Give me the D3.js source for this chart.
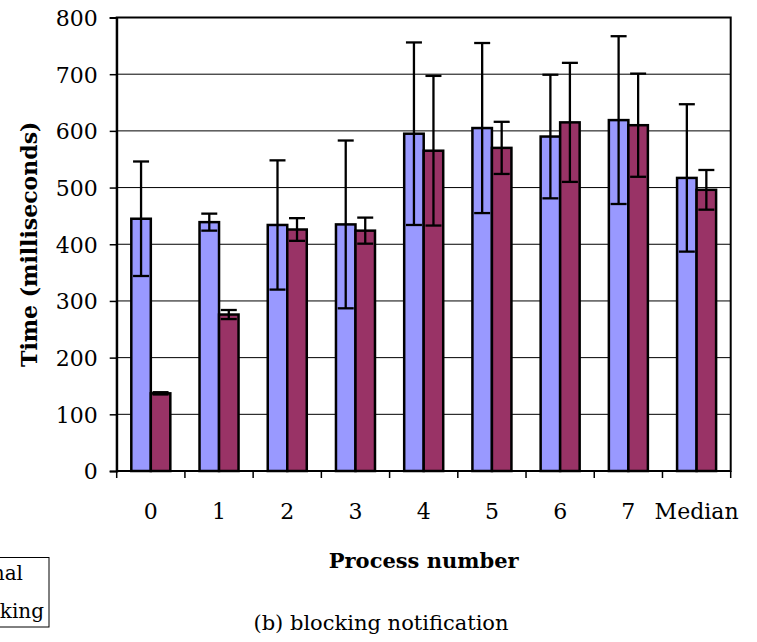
<!DOCTYPE html>
<html>
<head>
<meta charset="utf-8">
<script src="https://cdn.jsdelivr.net/npm/d3@7"></script>
<style>
  html, body { margin: 0; padding: 0; background: #fff; }
  svg { display: block; }
  text { font-family: "DejaVu Serif", "Liberation Serif", serif; fill: #000; }
</style>
</head>
<body>
<svg id="chart" width="757" height="642"></svg>
<script>
// Process categories along the x axis
const categories = ["0", "1", "2", "3", "4", "5", "6", "7", "Median"];

// Series names (legend)
const seriesNames = ["Normal", "Blocking"];

// Mean times in milliseconds and their error half-widths
const normalTimes  = [445, 439, 434, 435, 595, 605, 590, 619, 517];
const normalErr    = [101,  15, 114, 148, 161, 150, 109, 148, 130];
const blockingTimes = [137, 276, 426, 424, 565, 570, 615, 610, 496];
const blockingErr   = [  2,   8,  20,  23, 132,  46, 105,  91,  35];

// Y-axis ticks
const yTicks = [0, 100, 200, 300, 400, 500, 600, 700, 800];

const colors = ["#9999FF", "#993366"];

const plot = { left: 116.7, right: 730.7, top: 17.5, bottom: 471 };

const svg = d3.select("#chart");

const x = d3.scaleBand()
  .domain(categories)
  .range([plot.left, plot.right])
  .paddingInner(0.428)
  .paddingOuter(0.214);

const xSub = d3.scaleBand()
  .domain([0, 1])
  .range([0, x.bandwidth()])
  .padding(0);

const y = d3.scaleLinear().domain([0, 800]).range([plot.bottom, plot.top]);

// Horizontal gridlines
svg.append("g")
  .selectAll("line")
  .data(yTicks.slice(1))
  .join("line")
  .attr("x1", plot.left).attr("x2", plot.right)
  .attr("y1", d => y(d)).attr("y2", d => y(d))
  .attr("stroke", "#000").attr("stroke-width", 1);

// Bars
const rows = categories.map((c, i) => ({
  cat: c,
  vals: [
    { s: 0, v: normalTimes[i], e: normalErr[i] },
    { s: 1, v: blockingTimes[i], e: blockingErr[i] }
  ]
}));

const groups = svg.append("g")
  .selectAll("g")
  .data(rows)
  .join("g")
  .attr("transform", d => `translate(${x(d.cat)},0)`);

groups.selectAll("rect")
  .data(d => d.vals)
  .join("rect")
  .attr("x", d => xSub(d.s))
  .attr("y", d => y(d.v))
  .attr("width", xSub.bandwidth())
  .attr("height", d => y(0) - y(d.v))
  .attr("fill", d => colors[d.s])
  .attr("stroke", "#000")
  .attr("stroke-width", 2.5);

// Error bars
const capW = 16;
const eb = groups.selectAll("g.err")
  .data(d => d.vals)
  .join("g")
  .attr("class", "err")
  .attr("stroke", "#000")
  .attr("stroke-width", 2.3);

eb.append("line")
  .attr("x1", d => xSub(d.s) + xSub.bandwidth() / 2)
  .attr("x2", d => xSub(d.s) + xSub.bandwidth() / 2)
  .attr("y1", d => y(d.v + d.e))
  .attr("y2", d => y(d.v - d.e));
eb.append("line")
  .attr("x1", d => xSub(d.s) + xSub.bandwidth() / 2 - capW / 2)
  .attr("x2", d => xSub(d.s) + xSub.bandwidth() / 2 + capW / 2)
  .attr("y1", d => y(d.v + d.e)).attr("y2", d => y(d.v + d.e));
eb.append("line")
  .attr("x1", d => xSub(d.s) + xSub.bandwidth() / 2 - capW / 2)
  .attr("x2", d => xSub(d.s) + xSub.bandwidth() / 2 + capW / 2)
  .attr("y1", d => y(d.v - d.e)).attr("y2", d => y(d.v - d.e));

// Plot frame
svg.append("rect")
  .attr("x", plot.left).attr("y", plot.top)
  .attr("width", plot.right - plot.left)
  .attr("height", plot.bottom - plot.top)
  .attr("fill", "none").attr("stroke", "#000").attr("stroke-width", 2);

// Y axis
const yAxis = svg.append("g")
  .attr("transform", `translate(${plot.left},0)`)
  .call(d3.axisLeft(y).tickValues(yTicks).tickSize(7).tickPadding(12));
yAxis.select(".domain").attr("stroke-width", 2);
yAxis.selectAll(".tick line").attr("stroke-width", 1.5);
yAxis.selectAll("text")
  .style("font-family", '"DejaVu Serif", serif')
  .style("font-size", "22px")
  .attr("dy", "0.36em");

// X axis: ticks at category boundaries, labels centred in each band
const step = x.step();
const boundaries = d3.range(categories.length + 1).map(i => plot.left + i * step);
const xAxis = svg.append("g");
xAxis.append("line")
  .attr("x1", plot.left).attr("x2", plot.right)
  .attr("y1", plot.bottom).attr("y2", plot.bottom)
  .attr("stroke", "#000").attr("stroke-width", 2);
xAxis.selectAll("line.tk")
  .data(boundaries)
  .join("line")
  .attr("class", "tk")
  .attr("x1", d => d).attr("x2", d => d)
  .attr("y1", plot.bottom).attr("y2", plot.bottom + 7)
  .attr("stroke", "#000").attr("stroke-width", 1.5);
xAxis.selectAll("text")
  .data(categories)
  .join("text")
  .attr("x", d => x(d) + x.bandwidth() / 2)
  .attr("y", 519)
  .attr("text-anchor", "middle")
  .style("font-size", "22px")
  .text(d => d);

// Axis titles
svg.append("text")
  .attr("transform", `translate(37,${(plot.top + plot.bottom) / 2}) rotate(-90)`)
  .attr("text-anchor", "middle")
  .style("font-size", "22px")
  .style("font-weight", "bold")
  .text("Time (milliseconds)");

svg.append("text")
  .attr("x", (plot.left + plot.right) / 2)
  .attr("y", 568)
  .attr("text-anchor", "middle")
  .style("font-size", "21px")
  .style("font-weight", "bold")
  .text("Process number");

// Caption
svg.append("text")
  .attr("x", 381)
  .attr("y", 630)
  .attr("text-anchor", "middle")
  .style("font-size", "21px")
  .text("(b) blocking notification");

// Legend box (extends beyond the left edge)
const legend = svg.append("g");
legend.append("rect")
  .attr("x", -120).attr("y", 557.5)
  .attr("width", 169).attr("height", 69.5)
  .attr("fill", "#fff").attr("stroke", "#000").attr("stroke-width", 1);
const legendEnds = [23, 44];
const legendY = [580, 618];
seriesNames.forEach((name, i) => {
  legend.append("rect")
    .attr("x", legendEnds[i] - 110).attr("y", legendY[i] - 13)
    .attr("width", 12).attr("height", 12)
    .attr("fill", colors[i]).attr("stroke", "#000");
  legend.append("text")
    .attr("x", legendEnds[i])
    .attr("y", legendY[i])
    .attr("text-anchor", "end")
    .style("font-size", "20px")
    .text(name);
});
</script>
</body>
</html>
